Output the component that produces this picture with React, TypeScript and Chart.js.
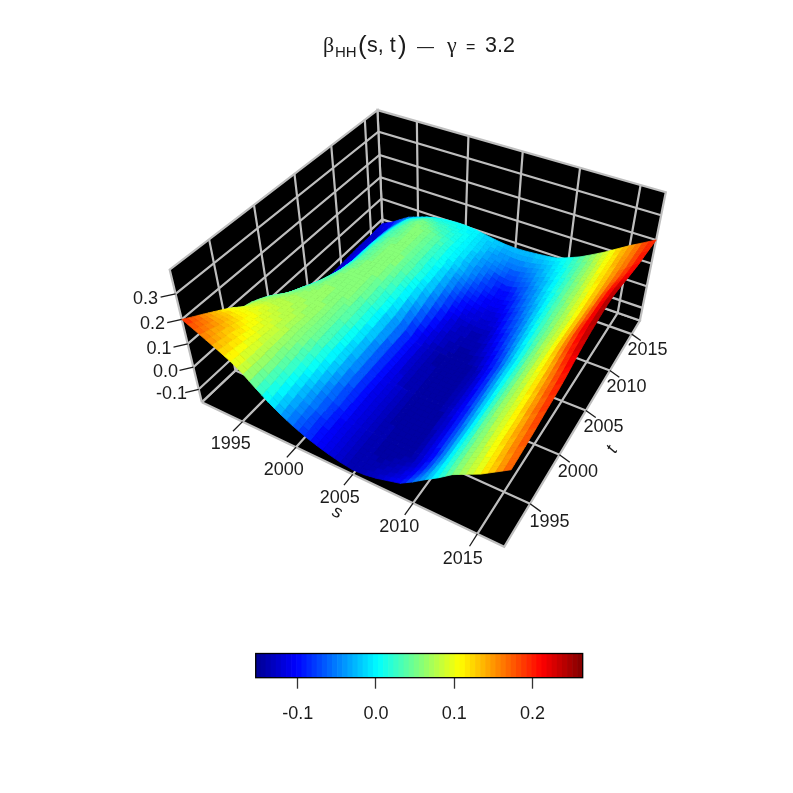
import React, { useEffect, useRef } from "react";
import { Chart, registerables } from "chart.js";
Chart.register(...registerables);

// ---------- data ----------
const sYears = [1991, 2017];
const tYears = [1991, 2017];
const sTicks = [1995, 2000, 2005, 2010, 2015];
const tTicks = [1995, 2000, 2005, 2010, 2015];
const zTicks = [-0.1, 0, 0.1, 0.2, 0.3];
const zLim = [-0.16, 0.39];
const colorLim = [-0.1538, 0.2643];
const colorTicks = [-0.1, 0, 0.1, 0.2];
// beta_HH(s,t) x 1000; rows t = 1991..2017, columns s = 1991..2017
const betaMilli = [
  [200,178,155,132,107,75,35,-3,-35,-62,-85,-103,-118,-130,-138,-135,-125,-110,-95,-62,-25,10,50,78,105,140,175],
  [178,163,145,125,102,74,38,4,-28,-56,-80,-101,-118,-130,-138,-139,-134,-124,-108,-75,-33,10,51,79,107,143,178],
  [157,148,135,118,97,72,42,11,-21,-50,-76,-99,-117,-130,-138,-142,-141,-134,-117,-83,-38,11,52,80,109,147,181],
  [135,133,125,108,93,72,46,17,-14,-44,-72,-97,-117,-129,-138,-144,-146,-141,-122,-88,-40,11,52,81,112,150,185],
  [113,118,112,100,90,72,50,24,-6,-37,-67,-94,-116,-129,-139,-145,-146,-141,-120,-87,-39,11,53,82,114,153,190],
  [90,103,103,93,85,72,54,31,1,-31,-63,-92,-116,-130,-139,-145,-147,-140,-119,-86,-39,12,54,84,116,157,196],
  [60,88,93,85,80,72,58,38,8,-25,-58,-90,-115,-130,-140,-146,-147,-140,-118,-85,-38,12,55,85,118,160,200],
  [50,75,82,80,76,68,57,40,10,-22,-57,-91,-116,-131,-141,-146,-147,-139,-116,-83,-35,13,56,86,121,165,205],
  [34,60,72,75,72,66,56,41,13,-19,-56,-91,-116,-131,-141,-146,-146,-139,-114,-81,-33,14,56,88,124,170,212],
  [15,40,60,70,68,64,56,43,15,-16,-55,-92,-117,-132,-142,-146,-146,-138,-112,-79,-30,15,57,89,127,175,222],
  [-20,15,45,62,66,63,57,45,18,-12,-53,-93,-118,-133,-142,-147,-146,-138,-111,-76,-28,17,58,91,131,184,232],
  [-40,-5,30,52,63,62,58,47,20,-9,-52,-94,-118,-133,-143,-147,-146,-137,-109,-74,-25,18,59,92,136,192,240],
  [-60,-25,12,42,60,62,59,48,23,-6,-51,-94,-119,-134,-143,-147,-145,-136,-107,-72,-23,19,59,94,140,198,246],
  [-75,-42,-5,32,55,62,60,50,25,-3,-50,-95,-120,-135,-144,-147,-145,-135,-105,-70,-20,20,60,95,143,203,250],
  [-90,-60,-20,20,50,59,60,53,30,2,-40,-86,-115,-132,-140,-144,-141,-126,-97,-62,-15,24,61,95,142,202,254],
  [-105,-75,-35,10,43,56,60,55,35,8,-31,-78,-110,-128,-137,-141,-137,-118,-90,-55,-10,28,62,95,141,200,256],
  [-120,-92,-45,4,38,53,60,58,40,13,-21,-69,-105,-125,-133,-138,-134,-109,-82,-47,-5,31,64,95,139,199,255],
  [-135,-110,-55,-2,35,50,60,60,45,18,-12,-60,-100,-122,-130,-135,-130,-100,-75,-40,0,35,65,95,138,198,250],
  [-133,-110,-55,-3,33,48,59,59,44,19,-9,-51,-88,-110,-121,-127,-121,-92,-67,-34,4,38,67,98,138,195,243],
  [-131,-108,-55,-4,32,47,58,58,44,21,-5,-42,-76,-98,-112,-120,-112,-84,-59,-27,8,40,69,100,138,190,235],
  [-129,-105,-55,-5,30,46,57,57,43,22,-2,-33,-64,-86,-103,-112,-103,-76,-51,-21,12,43,71,103,138,183,228],
  [-127,-110,-56,-10,28,44,56,56,43,24,2,-24,-52,-74,-94,-105,-94,-68,-43,-14,16,45,73,105,139,178,221],
  [-125,-115,-58,-15,22,42,58,55,42,25,5,-15,-40,-62,-85,-97,-85,-60,-35,-8,20,48,75,108,140,175,215],
  [-125,-120,-60,-20,15,38,56,48,33,20,4,-13,-34,-52,-70,-78,-68,-48,-28,-3,23,50,78,110,141,174,212],
  [-125,-120,-65,-28,8,25,40,32,24,15,3,-12,-28,-42,-55,-60,-52,-37,-20,2,26,53,80,112,143,174,208],
  [-122,-115,-72,-38,-10,5,18,18,14,10,1,-10,-22,-32,-39,-41,-35,-25,-13,7,29,55,83,113,144,173,204],
  [-120,-100,-72,-45,-30,-15,-5,2,5,5,0,-8,-16,-22,-24,-22,-18,-13,-6,12,32,58,85,115,145,172,200],
];

// ---------- view ----------
const THETA = (30 * Math.PI) / 180;
const PHI = (40 * Math.PI) / 180;
const DIST = 5.2;
const PX = 169.8;
const CX = 432;
const CY = 298;
const SIZE = 793;
const RESFAC = 2;
const LEVELS = 64;
const GREY = "#BEBEBE";
const INK = "#1c1c1c";
const FONT = '18px "Liberation Sans"';

const xOf = (s: number) => (2 * (s - sYears[0])) / (sYears[1] - sYears[0]) - 1;
const yOf = (t: number) => (2 * (t - tYears[0])) / (tYears[1] - tYears[0]) - 1;
const znOf = (z: number) => (z - (zLim[0] + zLim[1]) / 2) / (zLim[1] - zLim[0]);

function project(x: number, y: number, zn: number) {
  const X = x * Math.cos(THETA) + y * Math.sin(THETA);
  const Yp = -x * Math.sin(THETA) + y * Math.cos(THETA);
  const Ys = zn * Math.cos(PHI) + Yp * Math.sin(PHI);
  const c = -Yp * Math.cos(PHI) + zn * Math.sin(PHI);
  const k = DIST / (DIST - c);
  return { x: X * k, y: Ys * k, c };
}

const jetStops: [number, number, number, number][] = [
  [0, 0, 0, 143],
  [0.125, 0, 0, 255],
  [0.375, 0, 255, 255],
  [0.625, 255, 255, 0],
  [0.875, 255, 0, 0],
  [1, 128, 0, 0],
];
function jet(f: number) {
  const v = Math.max(0, Math.min(1, f));
  for (let i = 1; i < jetStops.length; i++) {
    if (v <= jetStops[i][0]) {
      const a = jetStops[i - 1];
      const b = jetStops[i];
      const w = (v - a[0]) / (b[0] - a[0]);
      const m = (n: number) => Math.round(a[n] + w * (b[n] - a[n]));
      return `rgb(${m(1)},${m(2)},${m(3)})`;
    }
  }
  return "rgb(128,0,0)";
}
function levelColor(z: number) {
  const f = (z - colorLim[0]) / (colorLim[1] - colorLim[0]);
  const l = Math.max(0, Math.min(LEVELS - 1, Math.floor(f * LEVELS)));
  return jet((l + 0.5) / LEVELS);
}

function lineSet(pts: number[][], color: string, width: number, order: number, fill = false) {
  return {
    type: "scatter",
    showLine: true,
    data: pts.map((p) => {
      const q = project(p[0], p[1], p[2]);
      return { x: q.x, y: q.y };
    }),
    borderColor: color,
    borderWidth: width,
    backgroundColor: "#000000",
    fill: fill ? "shape" : false,
    pointRadius: 0,
    tension: 0,
    order,
  };
}

const surfacePlugin = {
  id: "surface",
  afterDatasetsDraw(chart: any) {
    const { ctx, scales } = chart;
    const nj = betaMilli.length;
    const ni = betaMilli[0].length;
    const dx = 2 / (ni - 1);
    const dy = 2 / (nj - 1);
    const cells: { c: number; col: string; p: { x: number; y: number }[] }[] = [];
    for (let j = 0; j < nj - 1; j++) {
      for (let i = 0; i < ni - 1; i++) {
        const z00 = betaMilli[j][i] / 1000;
        const z10 = betaMilli[j][i + 1] / 1000;
        const z01 = betaMilli[j + 1][i] / 1000;
        const z11 = betaMilli[j + 1][i + 1] / 1000;
        const at = (a: number, b: number) => {
          const z = z00 * (1 - a) * (1 - b) + z10 * a * (1 - b) + z01 * (1 - a) * b + z11 * a * b;
          return { z, q: project(-1 + (i + a) * dx, -1 + (j + b) * dy, znOf(z)) };
        };
        for (let m = 0; m < RESFAC; m++) {
          for (let n = 0; n < RESFAC; n++) {
            const a0 = m / RESFAC, a1 = (m + 1) / RESFAC, b0 = n / RESFAC, b1 = (n + 1) / RESFAC;
            const v = [at(a0, b0), at(a1, b0), at(a1, b1), at(a0, b1)];
            const zm = (v[0].z + v[1].z + v[2].z + v[3].z) / 4;
            const cm = (v[0].q.c + v[1].q.c + v[2].q.c + v[3].q.c) / 4;
            cells.push({
              c: cm,
              col: levelColor(zm),
              p: v.map((e) => ({
                x: scales.x.getPixelForValue(e.q.x),
                y: scales.y.getPixelForValue(e.q.y),
              })),
            });
          }
        }
      }
    }
    cells.sort((a, b) => a.c - b.c);
    ctx.save();
    ctx.lineWidth = 0.8;
    ctx.lineJoin = "round";
    for (const cell of cells) {
      ctx.beginPath();
      cell.p.forEach((q, k) => (k ? ctx.lineTo(q.x, q.y) : ctx.moveTo(q.x, q.y)));
      ctx.closePath();
      ctx.fillStyle = cell.col;
      ctx.strokeStyle = cell.col;
      ctx.fill();
      ctx.stroke();
    }
    ctx.restore();
  },
};

const textPlugin = {
  id: "texts",
  afterDraw(chart: any) {
    const { ctx, scales } = chart;
    const put = (label: string, p: number[], rot = 0, font = FONT) => {
      const q = project(p[0], p[1], p[2]);
      ctx.save();
      ctx.translate(scales.x.getPixelForValue(q.x), scales.y.getPixelForValue(q.y));
      ctx.rotate(rot);
      ctx.font = font;
      ctx.fillStyle = INK;
      ctx.textAlign = "center";
      ctx.textBaseline = "middle";
      ctx.fillText(label, 0, 0);
      ctx.restore();
    };
    sTicks.forEach((s) => put(String(s), [xOf(s) * 0.97 + 0.03, -1.165, -0.5]));
    tTicks.forEach((t) => put(String(t), [1.12, yOf(t), -0.58]));
    zTicks.forEach((z) => put(z.toFixed(1), [-1.11, -1.11, znOf(z)]));
    put("s", [xOf(2005) + 0.07, -1.25, -0.5], 0.44, 'italic 18px "Liberation Sans"');
    put("t", [1.23, yOf(2005) - 0.15, -0.56], -1.05, 'italic 18px "Liberation Sans"');

    // title
    const seg = (label: string, x: number, y: number, font: string) => {
      ctx.save();
      ctx.font = font;
      ctx.fillStyle = INK;
      ctx.textAlign = "left";
      ctx.textBaseline = "alphabetic";
      ctx.fillText(label, x, y);
      ctx.restore();
    };
    const sans = (n: number) => `${n}px "Liberation Sans"`;
    const serif = (n: number) => `${n}px "Liberation Serif"`;
    seg("\u03B2", 323, 52, serif(22));
    seg("HH", 335, 57, sans(15));
    seg("(", 358, 54, sans(26));
    seg("s, t", 367, 52, sans(21.5));
    seg(")", 398, 54, sans(26));
    seg("\u2014", 417, 52, sans(17));
    seg("\u03B3", 447, 52, serif(22));
    seg("=", 466, 52, sans(16));
    seg("3.2", 485, 52, sans(21.5));
  },
};

const framePlugin = {
  id: "frame",
  afterDraw(chart: any) {
    const { ctx, chartArea: a } = chart;
    ctx.save();
    ctx.strokeStyle = "#000000";
    ctx.lineWidth = 1.3;
    ctx.strokeRect(a.left, a.top, a.right - a.left, a.bottom - a.top);
    ctx.restore();
  },
};

export default function App() {
  const box = useRef<HTMLCanvasElement>(null);
  const bar = useRef<HTMLCanvasElement>(null);
  useEffect(() => {
    document.body.style.margin = "0";
    const xT = (s: number) => xOf(s);
    const yT = (t: number) => yOf(t);
    const a = 0.5;
    const W = 2.2;
    const datasets: any[] = [
      lineSet([[-1, -1, -a], [-1, -1, a], [-1, 1, a], [-1, 1, -a], [-1, -1, -a]], GREY, W, 20, true),
      lineSet([[-1, 1, -a], [-1, 1, a], [1, 1, a], [1, 1, -a], [-1, 1, -a]], GREY, W, 20, true),
      lineSet([[-1, -1, -a], [1, -1, -a], [1, 1, -a], [-1, 1, -a], [-1, -1, -a]], GREY, W, 20, true),
    ];
    sTicks.forEach((s) => {
      datasets.push(lineSet([[xT(s), -1, -a], [xT(s), 1, -a], [xT(s), 1, a]], GREY, W, 10));
      datasets.push(lineSet([[xT(s), -1, -a], [xT(s), -1.085, -a]], INK, 1.3, 5));
    });
    tTicks.forEach((t) => {
      datasets.push(lineSet([[1, yT(t), -a], [-1, yT(t), -a], [-1, yT(t), a]], GREY, W, 10));
      datasets.push(lineSet([[1, yT(t), -a], [1.065, yT(t), -a - 0.025]], INK, 1.3, 5));
    });
    zTicks.forEach((z) => {
      const n = znOf(z);
      datasets.push(lineSet([[-1, -1, n], [-1, 1, n], [1, 1, n]], GREY, W, 10));
      datasets.push(lineSet([[-1, -1, n], [-1.05, -1.06, n]], INK, 1.3, 5));
    });
    // typed surface nodes, painted as facets by surfacePlugin
    const nodes: { x: number; y: number }[] = [];
    betaMilli.forEach((row, j) =>
      row.forEach((v, i) => {
        const q = project(-1 + (2 * i) / (row.length - 1), -1 + (2 * j) / (betaMilli.length - 1), znOf(v / 1000));
        nodes.push({ x: q.x, y: q.y });
      })
    );
    datasets.push({ type: "scatter", label: "surface", data: nodes, pointRadius: 0, order: 1 });

    const main = new Chart(box.current as any, {
      type: "scatter",
      data: { datasets },
      plugins: [surfacePlugin, textPlugin],
      options: {
        animation: false,
        responsive: false,
        layout: { padding: 0, autoPadding: false },
        plugins: { legend: { display: false }, tooltip: { enabled: false } },
        scales: {
          x: { type: "linear", display: false, min: -CX / PX, max: (SIZE - CX) / PX },
          y: { type: "linear", display: false, min: -(SIZE - CY) / PX, max: CY / PX },
        },
      },
    } as any);

    const levels = Array.from({ length: LEVELS }, (_, i) => String(i));
    const cb = new Chart(bar.current as any, {
      type: "bar",
      data: {
        labels: levels,
        datasets: [
          {
            data: levels.map(() => 1),
            xAxisID: "xc",
            yAxisID: "y",
            backgroundColor: levels.map((_, i) => jet((i + 0.5) / LEVELS)),
            borderWidth: 0,
            barPercentage: 1,
            categoryPercentage: 1,
          },
        ],
      },
      plugins: [framePlugin],
      options: {
        animation: false,
        responsive: false,
        layout: { padding: { left: 255.7, right: 210.3, top: 653.5, bottom: 55.3 }, autoPadding: false },
        plugins: { legend: { display: false }, tooltip: { enabled: false } },
        scales: {
          xc: { type: "category", display: false, offset: true, grid: { display: false } },
          y: { type: "linear", display: false, min: 0, max: 1 },
          xz: {
            type: "linear",
            position: "bottom",
            bounds: "data",
            offset: false,
            min: colorLim[0],
            max: colorLim[1],
            afterFit: (s: any) => {
              s.height = 60;
            },
            afterBuildTicks: (s: any) => {
              s.ticks = colorTicks.map((value) => ({ value }));
            },
            border: { display: false },
            grid: { offset: false, drawOnChartArea: false, drawTicks: true, tickLength: 11, tickColor: "#333333", tickWidth: 1.3 },
            ticks: {
              maxRotation: 0,
              autoSkip: false,
              padding: 15,
              color: INK,
              font: { family: "Liberation Sans", size: 18 },
              callback: (v: any) => Number(v).toFixed(1),
            },
          },
        },
      },
    } as any);
    return () => {
      main.destroy();
      cb.destroy();
    };
  }, []);
  const st: React.CSSProperties = { position: "absolute", left: 0, top: 0, display: "block" };
  return (
    <div style={{ position: "absolute", left: 0, top: 0, width: SIZE, height: SIZE }}>
      <canvas ref={box} width={SIZE} height={SIZE} style={st} />
      <canvas ref={bar} width={SIZE} height={SIZE} style={st} />
    </div>
  );
}
